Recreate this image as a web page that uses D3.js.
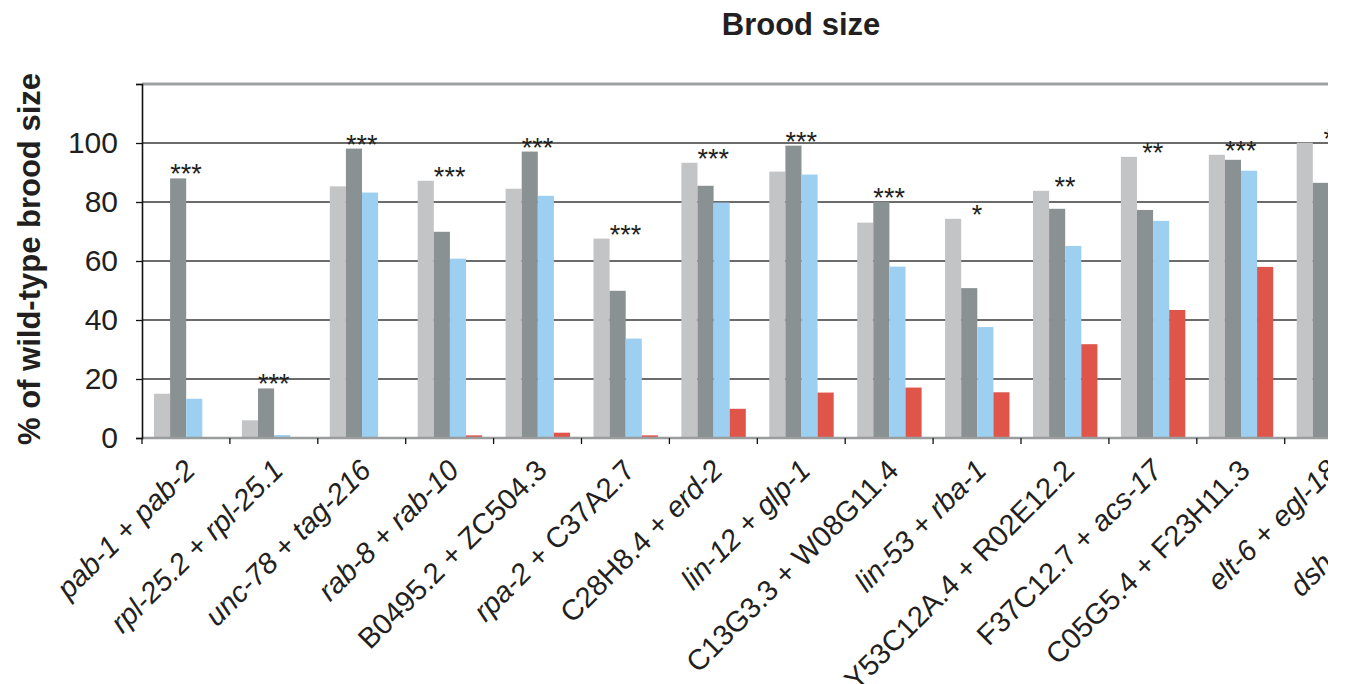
<!DOCTYPE html>
<html>
<head>
<meta charset="utf-8">
<script src="https://cdn.jsdelivr.net/npm/d3@7"></script>
<style>
  html, body { margin: 0; padding: 0; background: #fff; }
  svg { display: block; font-family: "Liberation Sans", Arial, sans-serif; }
</style>
</head>
<body>
<svg id="chart" width="1346" height="684"></svg>
<script>
// pairs of genes knocked down together
const categories = [
    "pab-1 + pab-2", "rpl-25.2 + rpl-25.1", "unc-78 + tag-216", "rab-8 + rab-10",
    "B0495.2 + ZC504.3", "rpa-2 + C37A2.7", "C28H8.4 + erd-2", "lin-12 + glp-1",
    "C13G3.3 + W08G11.4", "lin-53 + rba-1", "Y53C12A.4 + R02E12.2", "F37C12.7 + acs-17",
    "C05G5.4 + F23H11.3", "elt-6 + egl-18", "dsh-2 + mig-5"
];
const seriesNames = ["s1", "s2", "s3", "s4"];
const s1 = [15, 6, 85.3, 87.2, 84.5, 67.6, 93.3, 90.3, 73.0, 74.3, 83.8, 95.3, 96.0, 100.1, null];
const s2 = [88, 16.8, 98.1, 69.9, 97.1, 49.9, 85.5, 99.1, 80.1, 50.8, 77.7, 77.3, 94.3, 86.5, null];
const s3 = [13.3, 1.0, 83.2, 60.8, 82.1, 33.7, 79.8, 89.3, 58.1, 37.6, 65.1, 73.6, 90.6, null, null];
const s4 = [0, 0, 0, 0.9, 1.8, 0.9, 9.9, 15.4, 17.1, 15.5, 31.8, 43.4, 58.0, null, null];
const stars = ["***", "***", "***", "***", "***", "***", "***", "***", "***", "*", "**", "**", "***", "*", ""];
const yTicks = [0, 20, 40, 60, 80, 100, 120];
const yTickLabels = ["0", "20", "40", "60", "80", "100", ""];

const colors = {s1: "#c3c4c6", s2: "#8a9192", s3: "#9ccff0", s4: "#e0554a"};
const ink = "#231f20";

const svg = d3.select("#chart");
const left = 142, clipRight = 1328, groupW = 87.9;

let x = d3.scaleBand().domain(categories)
    .range([left, left + groupW * categories.length]).padding(0);
let xInner = d3.scaleBand().domain(seriesNames).range([12, groupW - 11.5]).padding(0);
let y = d3.scaleLinear().domain([0, 120]).range([438, 84]);

// the figure is cut off on the right
svg.append("defs").append("clipPath").attr("id", "plotClip")
    .append("rect").attr("x", 0).attr("y", 0).attr("width", clipRight).attr("height", 684);

// title
svg.append("text").attr("x", 801).attr("y", 35).attr("text-anchor", "middle")
    .attr("font-size", 31).attr("font-weight", "bold").attr("fill", ink).text("Brood size");

// y axis label
svg.append("text").attr("transform", "translate(40,259) rotate(-90)")
    .attr("text-anchor", "middle").attr("font-size", 31).attr("font-weight", "bold")
    .attr("fill", ink).text("% of wild-type brood size");

const plot = svg.append("g").attr("clip-path", "url(#plotClip)");

// gridlines
plot.append("g").selectAll("line").data(yTicks.filter(d => d > 0 && d < 120)).join("line")
    .attr("x1", left).attr("x2", clipRight)
    .attr("y1", d => y(d)).attr("y2", d => y(d))
    .attr("stroke", "#3a3a3a").attr("stroke-width", 1.4);
plot.append("line").attr("x1", left).attr("x2", clipRight)
    .attr("y1", y(120)).attr("y2", y(120)).attr("stroke", "#9ea2a3").attr("stroke-width", 3);

// bars
const table = categories.map((c, i) => ({cat: c, i: i, vals: {s1: s1[i], s2: s2[i], s3: s3[i], s4: s4[i]}}));
const groups = plot.append("g").selectAll("g").data(table).join("g")
    .attr("transform", d => `translate(${x(d.cat)},0)`);
groups.selectAll("rect")
    .data(d => seriesNames.map(k => ({k: k, v: d.vals[k]})).filter(e => e.v !== null))
    .join("rect")
    .attr("x", d => xInner(d.k)).attr("width", xInner.bandwidth())
    .attr("y", d => y(d.v)).attr("height", d => y(0) - y(d.v))
    .attr("fill", d => colors[d.k]);

// significance stars, above the tallest bar of each group
groups.append("text")
    .attr("x", groupW / 2)
    .attr("y", d => y(d3.max(seriesNames, k => d.vals[k]) || 0) + 5)
    .attr("text-anchor", "middle").attr("font-size", 27).attr("fill", ink)
    .text(d => stars[d.i]);

// baseline
plot.append("line").attr("x1", left).attr("x2", clipRight)
    .attr("y1", y(0)).attr("y2", y(0)).attr("stroke", "#9a9d9e").attr("stroke-width", 2.5);
plot.append("g").selectAll("line").data(d3.range(categories.length + 1)).join("line")
    .attr("x1", i => left + groupW * i).attr("x2", i => left + groupW * i)
    .attr("y1", y(0)).attr("y2", y(0) + 6).attr("stroke", "#111").attr("stroke-width", 1.3);

// y axis
const yAxis = d3.axisLeft(y).tickValues(yTicks).tickSize(6).tickPadding(18)
    .tickFormat((d, i) => yTickLabels[i]);
const ya = svg.append("g").attr("transform", `translate(${left},0)`).call(yAxis);
ya.select(".domain").attr("stroke", "#111").attr("stroke-width", 1.6);
ya.selectAll(".tick line").attr("stroke", "#111").attr("stroke-width", 1.3);
ya.selectAll(".tick text").attr("font-size", 30).attr("fill", ink)
    .attr("font-family", "Liberation Sans, Arial, sans-serif");

// rotated category labels; gene names in italics
const lab = plot.append("g").selectAll("text").data(categories).join("text")
    .attr("transform", d => `translate(${x(d) + groupW / 2 + 11},472) rotate(-45)`)
    .attr("text-anchor", "end").attr("font-size", 29).attr("fill", ink);
lab.each(function (d) {
    const t = d3.select(this);
    d.split(" + ").forEach((part, j) => {
        if (j > 0) t.append("tspan").text(" + ");
        t.append("tspan").attr("font-style", /^[a-z]/.test(part) ? "italic" : null).text(part);
    });
});
</script>
</body>
</html>
